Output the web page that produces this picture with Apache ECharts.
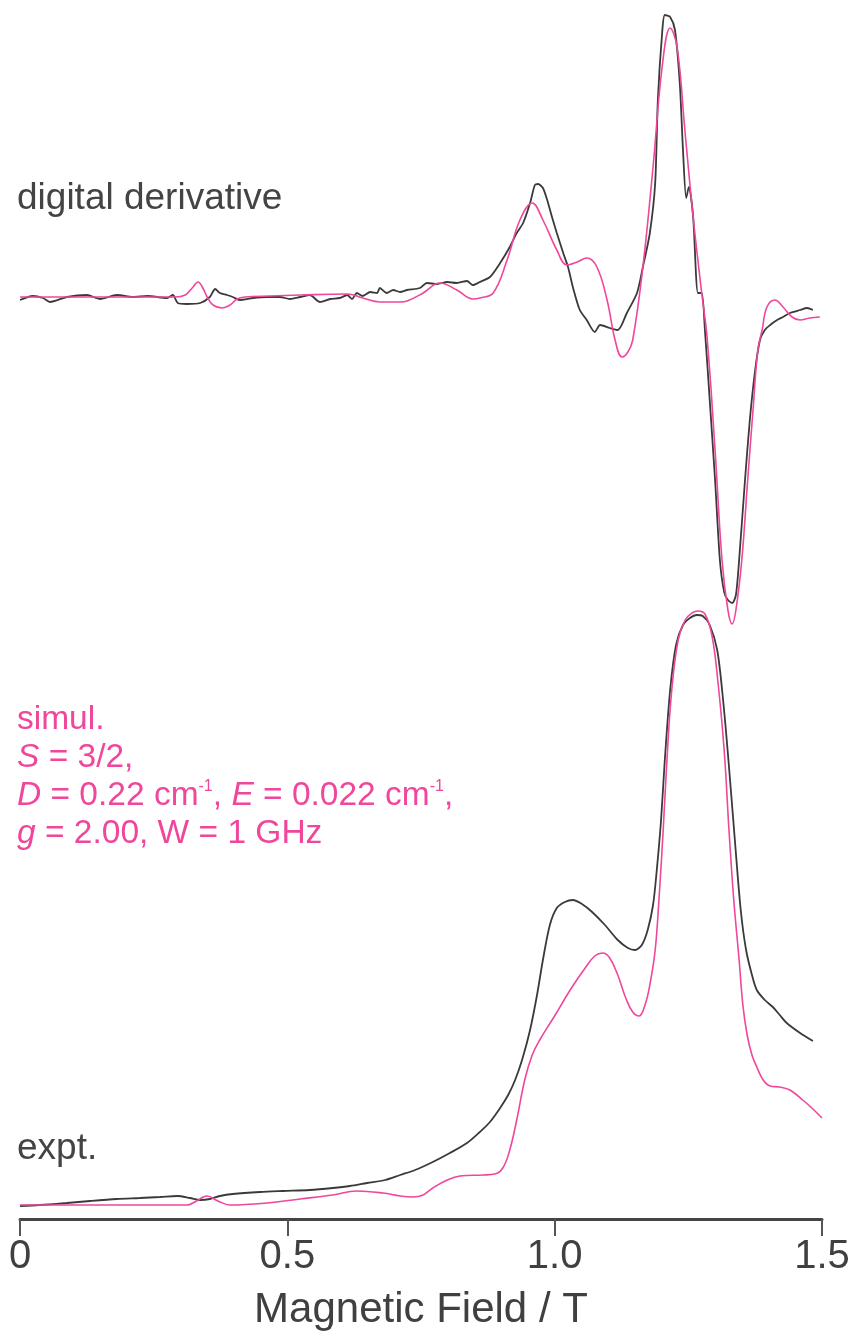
<!DOCTYPE html>
<html>
<head>
<meta charset="utf-8">
<script src="https://cdn.jsdelivr.net/npm/echarts@6/dist/echarts.min.js"></script>
<style>
  html, body { margin: 0; padding: 0; background: #fff; }
  #chart { width: 854px; height: 1342px; }
</style>
</head>
<body>
<div id="chart"></div>
<script>
// Field axis (T) and its tick labels
const fieldTicks = ['0', '0.5', '1.0', '1.5'];

// Digital derivative of the experimental spectrum: [field / T, signal / a.u.]
const derivExpt = [
  [0, -3], [0.024, 1], [0.043, -1], [0.056, -5], [0.088, 0], [0.125, 2], [0.150, -2],
  [0.181, 2], [0.211, 0], [0.238, 1], [0.275, -1], [0.286, 2], [0.295, -6], [0.312, -7],
  [0.337, -6], [0.355, 0], [0.365, 8], [0.374, 4], [0.387, 2], [0.398, 0], [0.411, -3],
  [0.436, -1], [0.462, 0], [0.486, 0], [0.505, -2], [0.524, 0], [0.542, 2], [0.561, -5],
  [0.580, -2], [0.598, -1], [0.612, 2], [0.621, -2], [0.630, 4], [0.641, 1], [0.655, 5],
  [0.668, 4], [0.673, 9], [0.686, 4], [0.698, 7], [0.711, 5], [0.724, 7], [0.748, 9],
  [0.761, 14], [0.780, 13], [0.799, 15], [0.817, 14], [0.836, 16], [0.847, 12], [0.860, 15],
  [0.879, 20], [0.898, 34], [0.916, 50], [0.929, 64], [0.941, 74], [0.954, 94], [0.963, 112],
  [0.969, 113], [0.978, 109], [0.986, 97], [0.995, 80], [1.004, 64], [1.016, 44], [1.025, 30],
  [1.034, 10], [1.047, -13], [1.060, -23], [1.075, -35], [1.085, -28], [1.103, -31],
  [1.118, -33], [1.135, -16], [1.154, 4], [1.165, 30], [1.178, 64], [1.188, 114], [1.193, 197],
  [1.201, 264], [1.206, 282], [1.216, 280], [1.225, 267], [1.234, 214], [1.240, 147],
  [1.246, 99], [1.251, 110], [1.259, 80], [1.268, 4], [1.275, 4], [1.281, -33], [1.290, -103],
  [1.300, -183], [1.309, -263], [1.317, -295], [1.324, -303], [1.332, -306], [1.339, -298],
  [1.345, -263], [1.356, -183], [1.365, -123], [1.375, -73], [1.384, -43], [1.393, -33],
  [1.403, -28], [1.416, -23], [1.427, -20], [1.440, -16], [1.459, -13], [1.472, -11], [1.483, -13]
];

// Derivative of the simulated spectrum
const derivSimul = [
  [0, 0], [0.150, 0], [0.290, 0], [0.309, 2], [0.322, 9], [0.333, 15], [0.342, 9], [0.350, 0],
  [0.361, -8], [0.378, -11], [0.393, -8], [0.406, -2], [0.421, 0], [0.468, 1], [0.524, 2],
  [0.612, 3], [0.641, -1], [0.673, -5], [0.711, -5], [0.724, -4], [0.754, 4], [0.785, 14],
  [0.817, 7], [0.847, -2], [0.860, -1], [0.885, 4], [0.911, 37], [0.935, 77], [0.958, 94],
  [0.978, 77], [1.004, 47], [1.023, 32], [1.042, 35], [1.060, 39], [1.079, 30], [1.098, -3],
  [1.113, -43], [1.126, -60], [1.137, -55], [1.146, -43], [1.165, 30], [1.184, 130],
  [1.201, 230], [1.216, 269], [1.229, 250], [1.244, 164], [1.259, 80], [1.275, 4],
  [1.285, -40], [1.300, -153], [1.313, -263], [1.324, -313], [1.332, -327], [1.339, -313],
  [1.350, -263], [1.361, -183], [1.371, -113], [1.380, -53], [1.388, -33], [1.397, -10],
  [1.412, -3], [1.427, -10], [1.444, -20], [1.459, -23], [1.477, -21], [1.496, -20]
];

// Measured absorption spectrum
const absExpt = [
  [0, 0], [0.037, 1], [0.088, 3], [0.131, 5], [0.181, 7], [0.224, 8], [0.262, 9], [0.294, 10],
  [0.318, 8], [0.337, 6], [0.355, 7], [0.374, 10], [0.398, 12], [0.449, 14], [0.492, 15],
  [0.542, 16], [0.585, 18], [0.617, 20], [0.649, 23], [0.683, 26], [0.711, 31], [0.739, 36],
  [0.772, 44], [0.804, 53], [0.836, 63], [0.860, 74], [0.879, 84], [0.898, 98], [0.913, 111],
  [0.926, 126], [0.939, 146], [0.954, 176], [0.967, 211], [0.978, 246], [0.991, 281],
  [1.004, 298], [1.019, 304], [1.034, 306], [1.051, 302], [1.070, 294], [1.094, 281],
  [1.118, 266], [1.137, 258], [1.150, 256], [1.163, 261], [1.174, 276], [1.184, 301],
  [1.191, 336], [1.199, 386], [1.206, 446], [1.216, 516], [1.227, 561], [1.240, 581],
  [1.253, 588], [1.266, 591], [1.277, 590], [1.290, 581], [1.304, 556], [1.315, 506],
  [1.325, 446], [1.337, 366], [1.348, 296], [1.358, 256], [1.369, 231], [1.378, 216],
  [1.393, 206], [1.408, 199], [1.421, 191], [1.434, 183], [1.459, 173], [1.483, 165]
];

// Simulated absorption spectrum
const absSimul = [
  [0, 1], [0.150, 1], [0.312, 1], [0.327, 4], [0.350, 10], [0.370, 5], [0.393, 1], [0.462, 3],
  [0.524, 7], [0.585, 11], [0.630, 15], [0.679, 13], [0.711, 10], [0.735, 9], [0.754, 11],
  [0.772, 18], [0.799, 26], [0.823, 30], [0.866, 31], [0.888, 32], [0.903, 38], [0.916, 56],
  [0.929, 86], [0.944, 126], [0.958, 151], [0.972, 166], [1.001, 191], [1.029, 216],
  [1.057, 238], [1.075, 250], [1.090, 253], [1.103, 248], [1.118, 231], [1.133, 208],
  [1.146, 194], [1.158, 190], [1.169, 201], [1.178, 221], [1.188, 256], [1.195, 306],
  [1.203, 376], [1.210, 446], [1.219, 516], [1.231, 566], [1.244, 586], [1.257, 593],
  [1.268, 595], [1.281, 592], [1.294, 571], [1.305, 526], [1.317, 456], [1.326, 376],
  [1.335, 306], [1.345, 246], [1.352, 201], [1.360, 171], [1.369, 151], [1.378, 139],
  [1.390, 126], [1.403, 120], [1.421, 119], [1.440, 116], [1.464, 106], [1.481, 98], [1.500, 88]
];

const EXPT = '#3a3a3a';
const SIMUL = '#f0469b';
const TEXT = '#444444';
const FONT = '"Liberation Sans", Arial, Helvetica, sans-serif';

const chart = echarts.init(document.getElementById('chart'), null, { renderer: 'canvas' });

const baseX = {
  type: 'value', min: 0, max: 1.5, interval: 0.5,
  splitLine: { show: false }
};

function annot(y, text, color, size, rich) {
  return {
    type: 'text', left: 17, top: y,
    style: {
      text: text, fill: color, font: size + 'px ' + FONT,
      rich: rich || {}
    }
  };
}

const richPink = {
  i: { fontStyle: 'italic', fontSize: 33.5, fontFamily: FONT, fill: SIMUL, color: SIMUL },
  s: { fontSize: 16, fontFamily: FONT, fill: SIMUL, color: SIMUL, verticalAlign: 'top' }
};

chart.setOption({
  animation: false,
  backgroundColor: '#ffffff',
  grid: [
    { left: 20, right: 32, top: 0, height: 637 },
    { left: 20, right: 32, top: 600, height: 619 }
  ],
  xAxis: [
    Object.assign({ gridIndex: 0, show: false }, baseX),
    Object.assign({ gridIndex: 1 }, baseX, {
      name: 'Magnetic Field / T',
      nameLocation: 'middle',
      nameGap: 70,
      nameTextStyle: { fontSize: 42, color: '#404040', fontFamily: FONT },
      axisLine: { show: true, onZero: false, lineStyle: { color: '#444', width: 3 } },
      axisTick: { show: true, length: 17, lineStyle: { color: '#555', width: 2 } },
      axisLabel: {
        fontSize: 40, color: '#404040', fontFamily: FONT, margin: 18,
        formatter: function (v) { return fieldTicks[Math.round(v / 0.5)]; }
      }
    })
  ],
  yAxis: [
    { type: 'value', gridIndex: 0, min: -340, max: 297, show: false },
    { type: 'value', gridIndex: 1, min: -13, max: 606, show: false }
  ],
  series: [
    { type: 'line', xAxisIndex: 0, yAxisIndex: 0, data: derivExpt, showSymbol: false,
      smooth: 0.25, lineStyle: { color: EXPT, width: 1.8 }, z: 3 },
    { type: 'line', xAxisIndex: 0, yAxisIndex: 0, data: derivSimul, showSymbol: false,
      smooth: 0.4, lineStyle: { color: SIMUL, width: 1.6 }, z: 4 },
    { type: 'line', xAxisIndex: 1, yAxisIndex: 1, data: absExpt, showSymbol: false,
      smooth: 0.3, lineStyle: { color: EXPT, width: 1.8 }, z: 3 },
    { type: 'line', xAxisIndex: 1, yAxisIndex: 1, data: absSimul, showSymbol: false,
      smooth: 0.4, lineStyle: { color: SIMUL, width: 1.6 }, z: 4 }
  ],
  graphic: [
    annot(180, 'digital derivative', TEXT, 37),
    annot(1130, 'expt.', TEXT, 37),
    annot(703, 'simul.', SIMUL, 33.5),
    annot(741, '{i|S} = 3/2,', SIMUL, 33.5, richPink),
    annot(779, '{i|D} = 0.22 cm{s|-1}, {i|E} = 0.022 cm{s|-1},', SIMUL, 33.5, richPink),
    annot(817, '{i|g} = 2.00, W = 1 GHz', SIMUL, 33.5, richPink)
  ]
});
</script>
</body>
</html>
